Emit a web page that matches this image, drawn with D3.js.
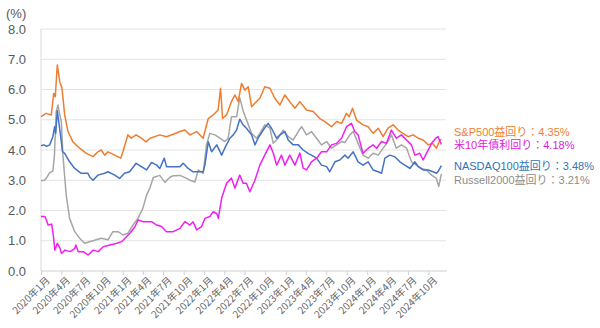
<!DOCTYPE html>
<html>
<head>
<meta charset="utf-8">
<script src="https://cdn.jsdelivr.net/npm/d3@7"></script>
<style>
  html, body { margin: 0; padding: 0; background: #ffffff; }
  svg { display: block; font-family: "Noto Sans CJK JP", "Noto Sans", sans-serif; }
</style>
</head>
<body>
<svg id="chart" width="600" height="328"></svg>
<script>
// S&P500 earnings yield (%)
const sp500 = [
  ["2020-01-01",5.10],["2020-01-24",5.21],["2020-02-16",5.16],["2020-02-27",5.87],["2020-03-05",5.76],
  ["2020-03-14",6.81],["2020-03-25",6.26],["2020-04-04",6.04],["2020-04-16",5.16],["2020-05-01",4.61],
  ["2020-05-23",4.27],["2020-06-22",4.06],["2020-07-22",3.89],["2020-08-21",3.78],["2020-09-12",3.94],
  ["2020-09-27",4.00],["2020-10-12",3.83],["2020-10-27",3.94],["2020-11-26",3.83],["2020-12-23",3.73],
  ["2021-01-02",3.94],["2021-01-24",4.50],["2021-02-08",4.39],["2021-03-02",4.50],["2021-03-25",4.39],
  ["2021-04-16",4.27],["2021-05-03",4.39],["2021-06-16",4.50],["2021-07-16",4.44],["2021-08-15",4.52],
  ["2021-09-14",4.61],["2021-10-06",4.66],["2021-10-29",4.50],["2021-11-28",4.61],["2021-12-27",4.39],
  ["2022-01-19",5.04],["2022-02-10",5.16],["2022-03-04",5.32],["2022-03-15",6.04],["2022-03-24",5.04],
  ["2022-04-11",5.16],["2022-05-03",5.60],["2022-05-18",5.82],["2022-06-02",5.60],["2022-06-17",6.20],
  ["2022-07-02",5.98],["2022-07-17",6.09],["2022-08-01",5.43],["2022-08-23",5.60],["2022-09-07",5.71],
  ["2022-09-29",6.09],["2022-10-22",6.04],["2022-11-13",5.71],["2022-12-06",5.49],["2022-12-28",5.82],
  ["2023-01-19",5.60],["2023-02-11",5.38],["2023-03-05",5.60],["2023-04-04",5.32],["2023-05-04",5.27],
  ["2023-06-03",5.04],["2023-06-25",4.94],["2023-07-25",4.77],["2023-08-17",4.94],["2023-09-08",4.88],
  ["2023-09-30",5.21],["2023-10-12",5.10],["2023-10-27",5.38],["2023-11-14",4.99],["2023-12-13",4.83],
  ["2024-01-05",4.77],["2024-01-27",4.55],["2024-02-19",4.72],["2024-03-12",4.44],["2024-04-03",4.72],
  ["2024-04-26",4.83],["2024-05-18",4.66],["2024-06-09",4.55],["2024-07-02",4.44],["2024-07-24",4.50],
  ["2024-08-16",4.39],["2024-09-07",4.33],["2024-09-30",4.17],["2024-10-19",4.22],["2024-11-06",4.06],
  ["2024-11-21",4.33],["2024-11-28",4.35]
];

// US 10-year Treasury yield (%)
const us10y = [
  ["2020-01-01",1.80],["2020-01-19",1.80],["2020-02-02",1.52],["2020-02-18",1.55],["2020-02-25",1.19],
  ["2020-03-03",0.69],["2020-03-14",0.92],["2020-03-26",0.75],["2020-04-02",0.58],["2020-04-17",0.69],
  ["2020-05-10",0.64],["2020-06-01",0.75],["2020-06-05",0.86],["2020-06-16",0.64],["2020-07-08",0.64],
  ["2020-07-30",0.53],["2020-08-22",0.69],["2020-09-13",0.64],["2020-10-06",0.80],["2020-11-05",0.86],
  ["2020-12-05",0.92],["2020-12-27",0.97],["2021-01-11",1.08],["2021-02-02",1.25],["2021-02-25",1.47],
  ["2021-03-11",1.69],["2021-04-03",1.63],["2021-05-10",1.63],["2021-06-02",1.52],["2021-06-24",1.47],
  ["2021-07-16",1.30],["2021-08-15",1.30],["2021-09-14",1.41],["2021-10-06",1.63],["2021-10-29",1.52],
  ["2021-11-12",1.63],["2021-11-28",1.36],["2021-12-20",1.47],["2022-01-04",1.74],["2022-01-26",1.80],
  ["2022-02-10",1.96],["2022-02-26",1.90],["2022-03-05",1.74],["2022-03-20",2.41],["2022-04-11",2.90],
  ["2022-05-03",3.07],["2022-05-18",2.74],["2022-06-09",3.17],["2022-06-24",2.90],["2022-07-09",2.90],
  ["2022-07-24",2.62],["2022-08-16",3.00],["2022-09-07",3.50],["2022-09-29",3.83],["2022-10-22",4.17],
  ["2022-11-06",3.90],["2022-11-21",3.50],["2022-12-13",3.83],["2022-12-28",3.50],["2023-01-19",3.83],
  ["2023-02-11",3.50],["2023-03-05",3.90],["2023-03-20",3.40],["2023-04-04",3.34],["2023-04-26",3.61],
  ["2023-05-19",3.73],["2023-06-10",3.94],["2023-07-03",3.94],["2023-07-25",4.17],["2023-08-17",4.22],
  ["2023-09-08",4.39],["2023-09-30",4.77],["2023-10-22",4.88],["2023-11-06",4.61],["2023-11-21",4.50],
  ["2023-12-13",3.89],["2024-01-05",4.06],["2024-01-27",4.17],["2024-02-12",4.06],["2024-03-05",4.28],
  ["2024-03-27",4.22],["2024-04-18",4.66],["2024-05-10",4.39],["2024-06-02",4.50],["2024-06-25",4.33],
  ["2024-07-17",4.17],["2024-08-01",3.83],["2024-08-23",3.89],["2024-09-07",3.67],["2024-09-22",3.89],
  ["2024-10-15",4.22],["2024-11-03",4.39],["2024-11-13",4.44],["2024-11-28",4.18]
];

// NASDAQ100 earnings yield (%)
const nasdaq100 = [
  ["2020-01-01",4.14],["2020-01-14",4.17],["2020-01-26",4.12],["2020-02-09",4.17],["2020-02-23",4.44],
  ["2020-03-02",4.77],["2020-03-07",4.55],["2020-03-14",5.30],["2020-03-21",4.90],["2020-03-30",4.40],
  ["2020-04-06",3.95],["2020-04-16",3.89],["2020-05-08",3.61],["2020-05-31",3.39],["2020-06-29",3.23],
  ["2020-07-29",3.23],["2020-08-07",3.10],["2020-08-21",3.00],["2020-09-12",3.17],["2020-10-12",3.23],
  ["2020-10-27",3.28],["2020-11-26",3.17],["2020-12-18",3.06],["2021-01-09",3.23],["2021-02-01",3.28],
  ["2021-03-02",3.56],["2021-03-25",3.45],["2021-04-18",3.34],["2021-05-10",3.59],["2021-06-02",3.50],
  ["2021-06-16",3.39],["2021-07-06",3.73],["2021-07-16",3.45],["2021-08-15",3.45],["2021-09-14",3.45],
  ["2021-09-29",3.56],["2021-10-21",3.39],["2021-11-12",3.28],["2021-12-05",3.28],["2021-12-27",3.28],
  ["2022-01-04",3.50],["2022-01-19",4.27],["2022-02-03",3.94],["2022-02-26",4.17],["2022-03-20",3.83],
  ["2022-04-03",4.06],["2022-04-26",4.39],["2022-05-11",4.50],["2022-05-26",4.66],["2022-06-09",5.02],
  ["2022-06-24",4.83],["2022-07-09",4.72],["2022-08-01",4.50],["2022-08-16",4.17],["2022-08-30",4.39],
  ["2022-09-22",4.66],["2022-10-14",4.88],["2022-10-29",4.72],["2022-11-21",4.39],["2022-12-06",4.50],
  ["2022-12-28",4.61],["2023-01-12",4.33],["2023-02-03",4.17],["2023-02-26",4.17],["2023-03-20",4.00],
  ["2023-04-11",3.89],["2023-04-26",3.83],["2023-05-19",3.73],["2023-06-10",3.50],["2023-07-03",3.45],
  ["2023-07-17",3.28],["2023-08-09",3.61],["2023-08-31",3.67],["2023-09-23",3.83],["2023-10-07",3.73],
  ["2023-10-30",3.94],["2023-11-21",3.61],["2023-12-13",3.50],["2024-01-05",3.61],["2024-01-27",3.34],
  ["2024-02-19",3.28],["2024-03-05",3.23],["2024-03-20",3.73],["2024-04-11",3.83],["2024-05-03",3.78],
  ["2024-05-26",3.61],["2024-06-17",3.50],["2024-07-10",3.39],["2024-08-01",3.61],["2024-08-16",3.45],
  ["2024-09-07",3.34],["2024-09-30",3.34],["2024-10-22",3.28],["2024-11-06",3.23],["2024-11-14",3.30],
  ["2024-11-28",3.48]
];

// Russell2000 earnings yield (%)
const russell2000 = [
  ["2020-01-01",2.98],["2020-01-17",3.00],["2020-01-28",3.10],["2020-02-09",3.25],["2020-02-23",3.30],
  ["2020-03-01",3.80],["2020-03-09",5.27],["2020-03-17",5.49],["2020-03-24",5.20],["2020-04-01",4.94],
  ["2020-04-08",3.83],["2020-04-23",2.51],["2020-05-08",1.74],["2020-05-31",1.30],["2020-06-22",1.08],
  ["2020-07-14",0.92],["2020-08-06",0.97],["2020-09-04",1.03],["2020-09-27",1.08],["2020-10-27",1.03],
  ["2020-11-18",1.30],["2020-12-11",1.30],["2021-01-02",1.19],["2021-01-24",1.25],["2021-02-16",1.52],
  ["2021-03-10",1.74],["2021-04-01",2.07],["2021-04-18",2.51],["2021-05-03",2.75],["2021-05-18",3.09],
  ["2021-06-16",3.16],["2021-07-09",2.93],["2021-07-31",3.10],["2021-08-15",3.15],["2021-09-14",3.16],
  ["2021-10-14",3.06],["2021-10-29",3.00],["2021-11-20",2.94],["2021-12-05",3.34],["2021-12-27",3.23],
  ["2022-01-11",4.17],["2022-01-26",4.55],["2022-02-18",4.50],["2022-03-12",4.39],["2022-04-03",4.28],
  ["2022-04-18",4.39],["2022-05-03",5.10],["2022-05-26",5.10],["2022-06-09",5.73],["2022-06-24",5.30],
  ["2022-07-09",5.00],["2022-08-01",4.55],["2022-08-23",4.39],["2022-09-07",4.55],["2022-09-29",4.83],
  ["2022-10-22",4.72],["2022-11-06",4.22],["2022-11-28",4.39],["2022-12-20",4.66],["2023-01-12",4.44],
  ["2023-02-03",4.33],["2023-02-26",4.61],["2023-03-13",4.77],["2023-04-04",4.50],["2023-04-26",4.61],
  ["2023-05-19",4.39],["2023-06-10",4.17],["2023-07-03",4.28],["2023-07-25",4.06],["2023-08-17",4.17],
  ["2023-09-08",4.28],["2023-09-23",4.25],["2023-10-15",4.50],["2023-10-30",4.61],["2023-11-21",4.22],
  ["2023-12-13",3.83],["2024-01-05",3.73],["2024-01-27",3.89],["2024-02-19",3.83],["2024-03-12",4.06],
  ["2024-04-03",4.28],["2024-04-18",4.50],["2024-05-10",4.06],["2024-06-02",4.17],["2024-06-25",4.06],
  ["2024-07-17",3.61],["2024-08-08",3.50],["2024-08-31",3.39],["2024-09-22",3.34],["2024-10-15",3.17],
  ["2024-11-06",3.06],["2024-11-16",2.79],["2024-11-28",3.21]
];

const yTicks = [0, 1, 2, 3, 4, 5, 6, 7, 8];
const xTickDates = [
  "2020-01-01","2020-04-01","2020-07-01","2020-10-01",
  "2021-01-01","2021-04-01","2021-07-01","2021-10-01",
  "2022-01-01","2022-04-01","2022-07-01","2022-10-01",
  "2023-01-01","2023-04-01","2023-07-01","2023-10-01",
  "2024-01-01","2024-04-01","2024-07-01","2024-10-01"
];
const seriesNames = ["Russell2000益回り", "NASDAQ100益回り", "S&P500益回り", "米10年債利回り"];
const seriesData = [russell2000, nasdaq100, sp500, us10y];
const lineColors = ["#a6a6a6", "#4472c4", "#ed7d31", "#f020f0"];
const labelColors = ["#8c8c8c", "#2e75b6", "#ed7d31", "#e020e0"];

const latinFont = "\"Liberation Sans\", \"Noto Sans CJK JP\", sans-serif";
const parse = d3.timeParse("%Y-%m-%d");
const svg = d3.select("#chart");

const x = d3.scaleTime()
  .domain([parse("2020-01-01"), parse("2025-01-01")])
  .range([41, 449]);
const y = d3.scaleLinear().domain([0, 8]).range([271, 29]);

// horizontal gridlines
svg.append("g")
  .selectAll("line")
  .data(yTicks.filter(d => d > 0))
  .join("line")
  .attr("x1", 41).attr("x2", 446)
  .attr("y1", d => y(d)).attr("y2", d => y(d))
  .attr("stroke", "#e4e4e4").attr("stroke-width", 1);

// left axis line
svg.append("line")
  .attr("x1", 41).attr("x2", 41)
  .attr("y1", y(8)).attr("y2", y(0))
  .attr("stroke", "#d9d9d9");

// y tick labels
svg.append("g")
  .selectAll("text")
  .data(yTicks)
  .join("text")
  .attr("x", 26).attr("y", d => y(d))
  .attr("dy", "0.35em")
  .attr("text-anchor", "end")
  .attr("fill", "#595959")
  .attr("font-size", 13)
  .attr("font-family", latinFont)
  .text(d => d.toFixed(1));

svg.append("text")
  .attr("x", 6).attr("y", 18)
  .attr("fill", "#595959")
  .attr("font-size", 13)
  .attr("font-family", latinFont)
  .text("(%)");

// x axis
const xAxis = d3.axisBottom(x)
  .tickValues(xTickDates.map(parse))
  .tickSize(4)
  .tickFormat(d3.timeFormat("%Y年%-m月"));

const gx = svg.append("g")
  .attr("transform", `translate(0,${y(0)})`)
  .call(xAxis);
gx.select(".domain").attr("stroke", "#d0d0d0").attr("d", "M41,0H447");
gx.selectAll(".tick line").attr("stroke", "#d0d0d0");
gx.selectAll(".tick text")
  .attr("fill", "#666666")
  .attr("font-size", 10)
  .attr("font-family", "\"Noto Sans CJK JP\", sans-serif")
  .attr("text-anchor", "end")
  .attr("transform", "translate(3,4) rotate(-45)")
  .attr("dy", "0.35em")
  .attr("y", 5);

// series lines
const line = d3.line()
  .x(d => x(parse(d[0])))
  .y(d => y(d[1]));

svg.append("g")
  .selectAll("path")
  .data(seriesData)
  .join("path")
  .attr("d", d => line(d))
  .attr("fill", "none")
  .attr("stroke", (d, i) => lineColors[i])
  .attr("stroke-width", 1.5)
  .attr("stroke-linejoin", "round");

// end labels
const labelY = [180, 166, 132, 145];
svg.append("g")
  .selectAll("text")
  .data(seriesData)
  .join("text")
  .attr("x", 454)
  .attr("y", (d, i) => labelY[i])
  .attr("dy", "0.35em")
  .attr("fill", (d, i) => labelColors[i])
  .attr("font-size", 11)
  .attr("font-family", latinFont)
  .text((d, i) => `${seriesNames[i]}：${d[d.length - 1][1].toFixed(2)}%`);
</script>
</body>
</html>
